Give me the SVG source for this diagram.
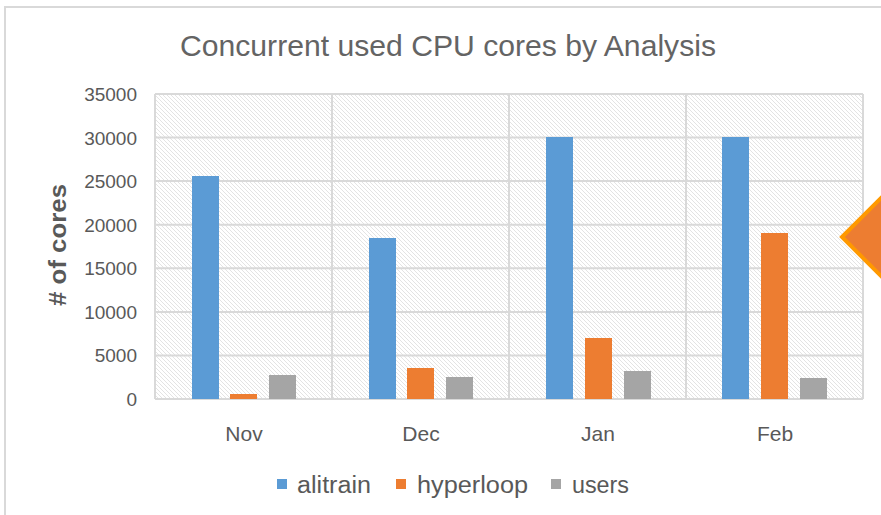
<svg xmlns="http://www.w3.org/2000/svg" width="881" height="515" viewBox="0 0 881 515">
  <style>
    .grid { stroke: #D9D9D9; stroke-width: 2; fill: none; }
    .tick { font-family: "Liberation Sans", Arial, sans-serif; font-size: 19px; fill: #595959; text-anchor: end; }
    .cat { font-family: "Liberation Sans", Arial, sans-serif; font-size: 21px; fill: #595959; text-anchor: middle; }
    .leg { font-family: "Liberation Sans", Arial, sans-serif; font-size: 23px; fill: #595959; }
    .s1 { fill: #5B9BD5; }
    .s2 { fill: #ED7D31; }
    .s3 { fill: #A5A5A5; }
  </style>
  <defs>
    <pattern id="hatch" patternUnits="userSpaceOnUse" width="4" height="4">
      <rect width="4" height="4" fill="#FFFFFF"/>
      <path d="M-1,-1 L5,5 M-1,3 L1,5 M3,-1 L5,1" stroke="#E0E0E0" stroke-width="0.9"/>
    </pattern>
  </defs>

  <rect width="881" height="515" fill="#FFFFFF"/>
  <!-- chart frame -->
  <path d="M5,515 V7 H881" fill="none" stroke="#D9D9D9" stroke-width="2"/>

  <text x="448" y="56" font-family="Liberation Sans, Arial, sans-serif" font-size="29" fill="#646464" text-anchor="middle" textLength="536" lengthAdjust="spacingAndGlyphs">Concurrent used CPU cores by Analysis</text>

  <!-- plot area -->
  <rect x="155" y="94" width="708" height="305" fill="url(#hatch)"/>
  <g id="grid">
    <path class="grid" d="M155,94 H863 M155,137.6 H863 M155,181.1 H863 M155,224.7 H863 M155,268.3 H863 M155,311.9 H863 M155,355.4 H863 M155,399 H863"/>
    <path class="grid" d="M155,94 V399 M332,94 V399 M509,94 V399 M686,94 V399 M863,94 V399"/>
  </g>

  <g id="y-axis">
    <text class="tick" x="137" y="101">35000</text>
    <text class="tick" x="137" y="144.6">30000</text>
    <text class="tick" x="137" y="188.1">25000</text>
    <text class="tick" x="137" y="231.7">20000</text>
    <text class="tick" x="137" y="275.3">15000</text>
    <text class="tick" x="137" y="318.9">10000</text>
    <text class="tick" x="137" y="362.4">5000</text>
    <text class="tick" x="137" y="406">0</text>
    <text x="60" y="245" transform="rotate(-90 60 245)" font-family="Liberation Sans, Arial, sans-serif" font-size="23" font-weight="bold" fill="#595959" text-anchor="middle" dominant-baseline="middle" textLength="122" lengthAdjust="spacingAndGlyphs"># of cores</text>
  </g>

  <!-- bars: y = 399 - v * 305 / 35000 -->
  <g id="nov">
    <rect class="s1" x="192" y="176" width="27" height="223"/>
    <rect class="s2" x="230" y="394" width="27" height="5"/>
    <rect class="s3" x="269" y="375" width="27" height="24"/>
    <text class="cat" x="244" y="441">Nov</text>
  </g>
  <g id="dec">
    <rect class="s1" x="369" y="238" width="27" height="161"/>
    <rect class="s2" x="407" y="368" width="27" height="31"/>
    <rect class="s3" x="446" y="377" width="27" height="22"/>
    <text class="cat" x="421" y="441">Dec</text>
  </g>
  <g id="jan">
    <rect class="s1" x="546" y="137" width="27" height="262"/>
    <rect class="s2" x="585" y="338" width="27" height="61"/>
    <rect class="s3" x="624" y="371" width="27" height="28"/>
    <text class="cat" x="598" y="441">Jan</text>
  </g>
  <g id="feb">
    <rect class="s1" x="722" y="137" width="27" height="262"/>
    <rect class="s2" x="761" y="233" width="27" height="166"/>
    <rect class="s3" x="800" y="378" width="27" height="21"/>
    <text class="cat" x="775" y="441">Feb</text>
  </g>

  <g id="legend">
    <rect class="s1" x="277" y="479" width="10" height="10"/>
    <text class="leg" x="297" y="493" textLength="74" lengthAdjust="spacingAndGlyphs">alitrain</text>
    <rect class="s2" x="396" y="479" width="10" height="10"/>
    <text class="leg" x="417" y="493" textLength="111" lengthAdjust="spacingAndGlyphs">hyperloop</text>
    <rect class="s3" x="551" y="479" width="10" height="10"/>
    <text class="leg" x="572" y="493" textLength="57" lengthAdjust="spacingAndGlyphs">users</text>
  </g>

  <!-- marker shape on the right edge -->
  <g id="diamond">
    <polygon points="842,237 900,179 958,237 900,295" fill="#ED7D31" stroke="#FF9900" stroke-width="4"/>
  </g>
</svg>
